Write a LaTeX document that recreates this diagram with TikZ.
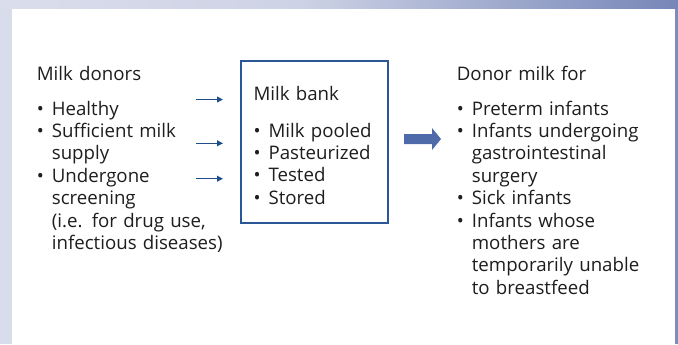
\documentclass[tikz,border=0pt]{standalone}
\usepackage{fontspec}
\setmainfont{Open Sans}
\usetikzlibrary{arrows.meta,calc}
\definecolor{txt}{HTML}{1E1E1E}
\definecolor{stripL}{HTML}{D9DDEB}
\definecolor{barA}{HTML}{DADEEC}
\definecolor{barB}{HTML}{CDD2E5}
\definecolor{barC}{HTML}{7686B8}
\definecolor{stripR}{HTML}{7D8CBC}
\definecolor{navy}{HTML}{1F4E8C}
\definecolor{boxc}{HTML}{2B5797}
\definecolor{bigc}{HTML}{4F6AA8}
\newcommand\myb{\makebox[11.25pt][l]{•}}
\newcommand\myc{\hspace*{11.25pt}}
\begin{document}
\begin{tikzpicture}[x=0.75pt,y=-0.75pt,
  colbox/.style={anchor=base west, inner sep=0pt, text width=190pt, align=left,
    text=txt, font=\fontsize{14}{16.8}\selectfont},
  bankbox/.style={draw=boxc, line width=1.1pt, minimum width=110.25pt,
    minimum height=121.5pt, inner sep=0pt},
  feedarrow/.style={draw=navy, line width=1.15pt, -{Triangle[length=4.5pt,width=4.3pt]}},
  bigarrow/.style={fill=bigc}]
\useasboundingbox (0,0) rectangle (678,344);
% background frame
\fill[stripL] (0,0) rectangle (678,344);
\fill[white] (12,8) rectangle (675,344);
\fill[stripR] (675,0) rectangle (678,344);
\shade[left color=barA, right color=barB] (0,0) rectangle (300,8);
\shade[left color=barB, right color=barC] (300,0) rectangle (678,8);
% milk bank box
\node[bankbox] (bank) at (314.5,142) {};
% columns
\node[colbox] (donors) at (36.6,80.7) {Milk donors\\[9pt]
\myb Healthy\\
\myb Sufficient milk\\
\myc supply\\
\myb Undergone\\
\myc screening\\
\myc (i.e. for drug use,\\
\myc infectious diseases)};
\node[colbox] (banktext) at (253.3,100.7) {Milk bank\\[10.5pt]
\myb Milk pooled\\
\myb Pasteurized\\
\myb Tested\\
\myb Stored};
\node[colbox] (uses) at (456.6,80.7) {Donor milk for\\[9pt]
\myb Preterm infants\\
\myb Infants undergoing\\
\myc gastrointestinal\\
\myc surgery\\
\myb Sick infants\\
\myb Infants whose\\
\myc mothers are\\
\myc temporarily unable\\
\myc to breastfeed};
% small arrows
\coordinate (a1s) at (196,99.5);  \coordinate (a1e) at (223,99.5);
\coordinate (a2s) at (196,143.3); \coordinate (a2e) at (223,143.3);
\coordinate (a3s) at (196,178.7); \coordinate (a3e) at (223,178.7);
\draw[feedarrow] (a1s) -- (a1e);
\draw[feedarrow] (a2s) -- (a2e);
\draw[feedarrow] (a3s) -- (a3e);
% big arrow
\coordinate (bs) at (404,139);
\coordinate (be) at (441,139);
\fill[bigarrow] ($(bs)+(0,-5)$) -- ($(be)+(-9,-5)$) -- ($(be)+(-9,-11)$) -- (be)
  -- ($(be)+(-9,11)$) -- ($(be)+(-9,5)$) -- ($(bs)+(0,5)$) -- cycle;
\end{tikzpicture}
\end{document}
